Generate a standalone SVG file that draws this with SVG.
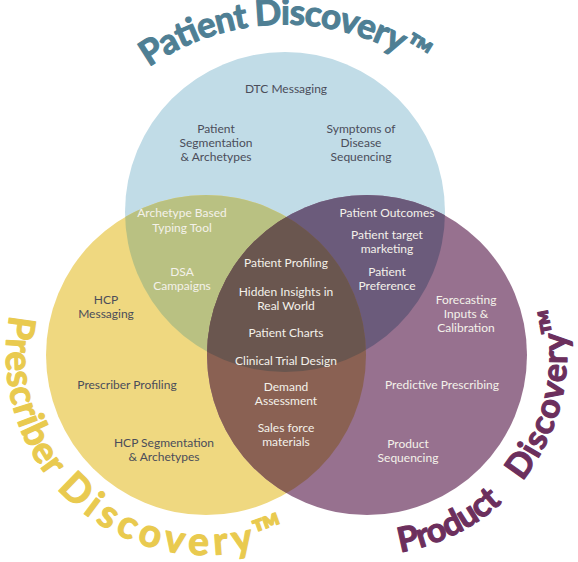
<svg xmlns="http://www.w3.org/2000/svg" width="578" height="562" viewBox="0 0 578 562">
<style>
.t{font-family:Lato,"Open Sans","Liberation Sans",sans-serif;font-size:12px;text-anchor:middle}
.dk{fill:#4b4d5a}
.lt{fill:#f4f1ea}
.title{font-family:Lato,"Open Sans","Liberation Sans",sans-serif;font-weight:bold;stroke-width:1.1;stroke-linejoin:round}
</style>
<defs>
<circle id="cB" cx="285" cy="212" r="160"/>
<circle id="cY" cx="206" cy="355" r="160"/>
<circle id="cP" cx="367" cy="355" r="160"/>
<clipPath id="clipB"><use href="#cB"/></clipPath>
<clipPath id="clipY"><use href="#cY"/></clipPath>
<path id="arcTop" d="M 61,182 A 238,238 0 0,1 509,182"/>
<path id="arcLeft" d="M 10,315.2 A 200,200 0 0,0 359.2,483.6"/>
<path id="arcRight" d="M 400.4,552.2 A 200,200 0 0,0 540.2,255"/>
</defs>
<rect width="578" height="562" fill="#ffffff"/>
<g id="circles">
<use id="circle-patient" href="#cB" fill="#c1dce7"/>
<use id="circle-prescriber" href="#cY" fill="#efd880"/>
<use id="circle-product" href="#cP" fill="#97718f"/>
<g clip-path="url(#clipB)"><use href="#cY" fill="#b9c182"/><use href="#cP" fill="#6b5b7b"/></g>
<g clip-path="url(#clipY)"><use href="#cP" fill="#8a6153"/></g>
<g clip-path="url(#clipB)"><g clip-path="url(#clipY)"><use href="#cP" fill="#6a564f"/></g></g>
</g>
<g id="titles">
<text id="title-patient" class="title" font-size="35" fill="#4f7f94" stroke="#4f7f94"><textPath href="#arcTop" startOffset="50%" text-anchor="middle" textLength="290" lengthAdjust="spacing">Patient Discovery™</textPath></text>
<text id="title-prescriber-1" class="title" font-size="37" fill="#e9ca4f" stroke="#e9ca4f"><textPath href="#arcLeft" textLength="172" lengthAdjust="spacing">Prescriber</textPath></text>
<text id="title-prescriber-2" class="title" font-size="39" fill="#e9ca4f" stroke="#e9ca4f"><textPath href="#arcLeft" startOffset="186" textLength="252" lengthAdjust="spacing">Discovery™</textPath></text>
<text id="title-product-1" class="title" font-size="34" fill="#6c2f5d" stroke="#6c2f5d"><textPath href="#arcRight" textLength="115" lengthAdjust="spacing">Product</textPath></text>
<text id="title-product-2" class="title" font-size="34" fill="#6c2f5d" stroke="#6c2f5d"><textPath href="#arcRight" startOffset="144" textLength="186" lengthAdjust="spacing">Discovery™</textPath></text>
</g>
<g id="labels-patient" class="t dk">
<text x="286" y="93">DTC Messaging</text>
<text x="216" y="133">Patient</text>
<text x="216" y="147">Segmentation</text>
<text x="216" y="161">&amp; Archetypes</text>
<text x="361" y="133">Symptoms of</text>
<text x="361" y="147">Disease</text>
<text x="361" y="161">Sequencing</text>
</g>
<g id="labels-patient-prescriber" class="t lt">
<text x="182" y="217">Archetype Based</text>
<text x="182" y="232">Typing Tool</text>
<text x="182" y="276">DSA</text>
<text x="182" y="290">Campaigns</text>
</g>
<g id="labels-patient-product" class="t lt">
<text x="387" y="217">Patient Outcomes</text>
<text x="387" y="239">Patient target</text>
<text x="387" y="253">marketing</text>
<text x="387" y="276">Patient</text>
<text x="387" y="290">Preference</text>
</g>
<g id="labels-center" class="t lt">
<text x="286" y="267">Patient Profiling</text>
<text x="286" y="296">Hidden Insights in</text>
<text x="286" y="310">Real World</text>
<text x="286" y="337">Patient Charts</text>
<text x="286" y="365">Clinical Trial Design</text>
</g>
<g id="labels-prescriber-product" class="t lt">
<text x="286" y="391">Demand</text>
<text x="286" y="405">Assessment</text>
<text x="286" y="432">Sales force</text>
<text x="286" y="446">materials</text>
</g>
<g id="labels-prescriber" class="t dk">
<text x="106" y="304">HCP</text>
<text x="106" y="318">Messaging</text>
<text x="127" y="389">Prescriber Profiling</text>
<text x="164" y="447">HCP Segmentation</text>
<text x="164" y="461">&amp; Archetypes</text>
</g>
<g id="labels-product" class="t lt">
<text x="466" y="304">Forecasting</text>
<text x="466" y="318">Inputs &amp;</text>
<text x="466" y="332">Calibration</text>
<text x="442" y="389">Predictive Prescribing</text>
<text x="408" y="448">Product</text>
<text x="408" y="462">Sequencing</text>
</g>
</svg>
